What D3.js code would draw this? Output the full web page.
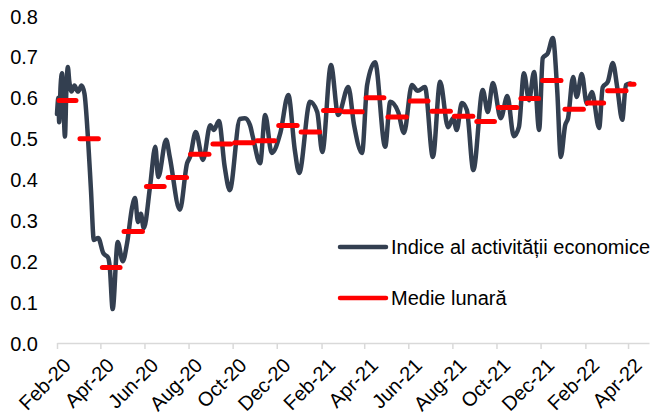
<!DOCTYPE html>
<html>
<head>
<meta charset="utf-8">
<script src="https://cdn.jsdelivr.net/npm/d3@7"></script>
<style>
  body { margin: 0; background: #fff; }
  text { font-family: "Liberation Sans", Arial, sans-serif; fill: #000; }
</style>
</head>
<body>
<svg id="chart" width="662" height="414"></svg>
<script>
// daily activity index, read at turning points
const indexDates = [
  "2020-02-01","2020-02-03","2020-02-04","2020-02-06","2020-02-08","2020-02-10","2020-02-12","2020-02-14",
  "2020-02-16","2020-02-18","2020-02-21","2020-02-25","2020-03-01","2020-03-06","2020-03-10","2020-03-15",
  "2020-03-19","2020-03-23","2020-03-29","2020-04-05","2020-04-12","2020-04-14","2020-04-18","2020-04-25",
  "2020-05-02","2020-05-08","2020-05-15","2020-05-19","2020-05-23","2020-05-27","2020-05-31","2020-06-09",
  "2020-06-16","2020-06-20","2020-07-01","2020-07-06","2020-07-20","2020-07-30","2020-08-03","2020-08-11",
  "2020-08-21","2020-08-31","2020-09-05","2020-09-12","2020-09-20","2020-09-27","2020-10-11","2020-10-18",
  "2020-10-25","2020-10-29","2020-11-08","2020-11-15","2020-11-24","2020-12-06","2020-12-17","2020-12-26",
  "2021-01-01","2021-01-16","2021-01-26","2021-02-02","2021-02-14","2021-02-24","2021-03-10","2021-03-18",
  "2021-03-29","2021-04-05","2021-04-16","2021-04-30","2021-05-07","2021-05-18","2021-05-26","2021-06-06",
  "2021-06-14","2021-06-24","2021-07-05","2021-07-15","2021-07-26","2021-08-02","2021-08-07","2021-08-14",
  "2021-08-21","2021-08-30","2021-09-12","2021-09-19","2021-09-26","2021-10-07","2021-10-16","2021-10-25",
  "2021-11-01","2021-11-08","2021-11-15","2021-11-22","2021-11-29","2021-12-04","2021-12-11","2021-12-18",
  "2021-12-24","2021-12-29","2022-01-04","2022-01-08","2022-01-15","2022-01-20","2022-01-27","2022-02-03",
  "2022-02-10","2022-02-20","2022-02-25","2022-03-04","2022-03-11","2022-03-17","2022-03-24","2022-03-29",
  "2022-04-04"
];
const indexValues = [
  0.56, 0.60, 0.54, 0.63, 0.66, 0.58, 0.505, 0.62,
  0.675, 0.64, 0.615, 0.63, 0.615, 0.63, 0.61, 0.497,
  0.374, 0.252, 0.257, 0.220, 0.208, 0.186, 0.083, 0.247,
  0.200, 0.245, 0.333, 0.355, 0.296, 0.316, 0.281, 0.387,
  0.480, 0.406, 0.497, 0.455, 0.326, 0.440, 0.455, 0.516,
  0.448, 0.533, 0.521, 0.543, 0.431, 0.374, 0.548, 0.550,
  0.533, 0.504, 0.440, 0.558, 0.465, 0.514, 0.607, 0.472,
  0.416, 0.590, 0.565, 0.467, 0.680, 0.558, 0.626, 0.533,
  0.465, 0.631, 0.687, 0.480, 0.590, 0.565, 0.514, 0.631,
  0.617, 0.626, 0.455, 0.639, 0.528, 0.550, 0.521, 0.587,
  0.570, 0.423, 0.619, 0.565, 0.636, 0.550, 0.604, 0.506,
  0.528, 0.660, 0.594, 0.663, 0.521, 0.697, 0.709, 0.746,
  0.619, 0.455, 0.533, 0.550, 0.651, 0.602, 0.658, 0.585,
  0.614, 0.526, 0.626, 0.639, 0.685, 0.626, 0.546, 0.631,
  0.635
];

// monthly averages
const months = [
  "2020-02","2020-03","2020-04","2020-05","2020-06","2020-07","2020-08","2020-09","2020-10","2020-11","2020-12",
  "2021-01","2021-02","2021-03","2021-04","2021-05","2021-06","2021-07","2021-08","2021-09","2021-10","2021-11","2021-12",
  "2022-01","2022-02","2022-03","2022-04"
];
const monthlyMean = [
  0.593, 0.50, 0.185, 0.273, 0.383, 0.405, 0.462, 0.487, 0.49, 0.495, 0.532,
  0.516, 0.569, 0.566, 0.60, 0.553, 0.592, 0.567, 0.555, 0.542, 0.576, 0.598, 0.642,
  0.572, 0.587, 0.617, 0.633
];
const dataEnd = "2022-04-12";

const yTicks = [0, 0.1, 0.2, 0.3, 0.4, 0.5, 0.6, 0.7, 0.8];
const seriesNames = ["Indice al activității economice", "Medie lunară"];
const colors = ["#333f50", "#ff0000"];

const svg = d3.select("#chart");
const parseDay = d3.timeParse("%Y-%m-%d");
const parseMonth = d3.timeParse("%Y-%m");

const x = d3.scaleTime()
  .domain([parseDay("2020-02-01"), parseDay("2022-04-30")])
  .range([57, 649]);
const y = d3.scaleLinear().domain([0, 0.8]).range([343, 16]);

// y axis labels only
const yAxis = svg.append("g")
  .attr("transform", "translate(38,0)")
  .call(d3.axisLeft(y).tickValues(yTicks).tickFormat(d3.format(".1f")).tickSize(0).tickPadding(0));
yAxis.select(".domain").remove();
yAxis.selectAll("text").style("font-size", "20px").attr("dy", "0.35em");

// x axis
const xTicks = d3.timeMonth.range(parseDay("2020-02-01"), parseDay("2022-05-01"), 2);
const xAxis = svg.append("g")
  .attr("transform", "translate(0,343)")
  .call(d3.axisBottom(x).tickValues(xTicks).tickFormat(d3.timeFormat("%b-%y")).tickSizeInner(6).tickSizeOuter(0));
xAxis.select(".domain").attr("stroke", "#d9d9d9").attr("stroke-width", 1.5);
xAxis.selectAll(".tick line").attr("stroke", "#d9d9d9").attr("stroke-width", 1.5);
xAxis.selectAll(".tick text")
  .style("font-size", "20px")
  .attr("text-anchor", "end")
  .attr("x", 0).attr("y", 0).attr("dy", "0.75em")
  .attr("transform", "translate(4,13) rotate(-45)");

// index line
const pts = indexDates.map((d, i) => ({ date: parseDay(d), value: indexValues[i] }));
const line = d3.line().x(d => x(d.date)).y(d => y(d.value)).curve(d3.curveMonotoneX);
svg.append("path")
  .datum(pts)
  .attr("d", line)
  .attr("fill", "none")
  .attr("stroke", colors[0])
  .attr("stroke-width", 4.5)
  .attr("stroke-linejoin", "round")
  .attr("stroke-linecap", "round");

// monthly mean segments
const endDate = parseDay(dataEnd);
const segs = months.map((m, i) => {
  const start = parseMonth(m);
  const next = d3.timeMonth.offset(start, 1);
  return { start, end: next < endDate ? next : endDate, value: monthlyMean[i] };
});
svg.append("g").selectAll("line")
  .data(segs)
  .join("line")
  .attr("x1", d => x(d.start) + 2)
  .attr("x2", d => x(d.end) - 2)
  .attr("y1", d => y(d.value))
  .attr("y2", d => y(d.value))
  .attr("stroke", colors[1])
  .attr("stroke-width", 5)
  .attr("stroke-linecap", "round");

// legend
const legend = svg.append("g").attr("transform", "translate(340,247)");
seriesNames.forEach((name, i) => {
  const g = legend.append("g").attr("transform", `translate(0,${i * 51})`);
  g.append("line")
    .attr("x1", 0).attr("x2", 46)
    .attr("stroke", colors[i]).attr("stroke-width", 4.5)
    .attr("stroke-linecap", "round");
  g.append("text")
    .attr("x", 51).attr("dy", "0.35em")
    .style("font-size", "20px")
    .text(name);
});
</script>
</body>
</html>
